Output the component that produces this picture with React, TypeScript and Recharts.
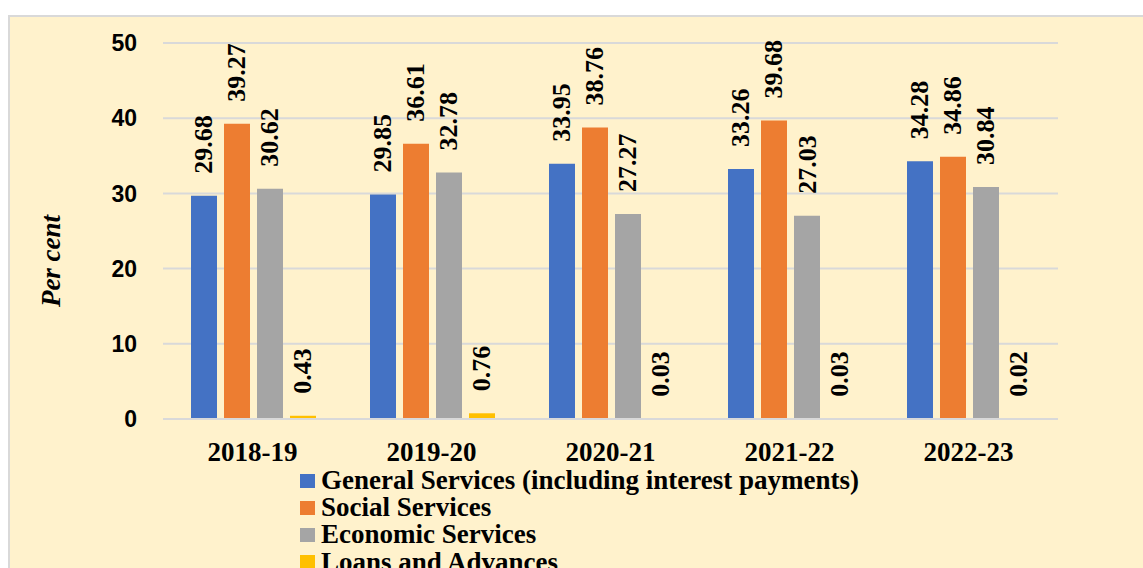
import React from 'react';
import { BarChart, Bar, XAxis, YAxis, CartesianGrid, Legend, LabelList, Label } from 'recharts';

const categories = ['2018-19', '2019-20', '2020-21', '2021-22', '2022-23'];
const generalServices = [29.68, 29.85, 33.95, 33.26, 34.28];
const socialServices = [39.27, 36.61, 38.76, 39.68, 34.86];
const economicServices = [30.62, 32.78, 27.27, 27.03, 30.84];
const loansAdvances = [0.43, 0.76, 0.03, 0.03, 0.02];
const yTicks = [0, 10, 20, 30, 40, 50];

const seriesNames = [
  'General Services (including interest payments)',
  'Social Services',
  'Economic Services',
  'Loans and Advances',
];
const seriesKeys = ['general', 'social', 'economic', 'loans'];
const seriesColors = ['#4472C4', '#ED7D31', '#A5A5A5', '#FFC000'];

const data = categories.map((c, i) => ({
  category: c,
  general: generalServices[i],
  social: socialServices[i],
  economic: economicServices[i],
  loans: loansAdvances[i],
}));

const SERIF = '"Liberation Serif", "Times New Roman", serif';
const SANS = '"Liberation Sans", Arial, sans-serif';

const RotatedLabel = (props: any) => {
  const { x, y, width, value } = props;
  const cx = Number(x) + Number(width) / 2;
  const ty = Number(y) - 22;
  return (
    <text
      x={cx}
      y={ty}
      transform={`rotate(-90, ${cx}, ${ty})`}
      textAnchor="start"
      dominantBaseline="central"
      fontFamily={SERIF}
      fontWeight="bold"
      fontSize={26}
      fill="#000"
    >
      {Number(value).toFixed(2)}
    </text>
  );
};

const YTitle = (props: any) => {
  const vb = props.viewBox || { x: 0, y: 0, width: 0, height: 0 };
  const tx = 41;
  const ty = vb.y + vb.height / 2 + 30;
  return (
    <text
      x={tx}
      y={ty}
      transform={`rotate(-90, ${tx}, ${ty})`}
      textAnchor="middle"
      dominantBaseline="central"
      fontFamily={SERIF}
      fontWeight="bold"
      fontStyle="italic"
      fontSize={27}
      fill="#000"
    >
      Per cent
    </text>
  );
};

const LegendContent = () => (
  <div style={{ fontFamily: SERIF, fontWeight: 'bold', fontSize: 27, color: '#000' }}>
    {seriesNames.map((n, i) => (
      <div key={n} style={{ display: 'flex', alignItems: 'center', height: 27.2, whiteSpace: 'nowrap' }}>
        <span style={{ display: 'inline-block', width: 15, height: 14, background: seriesColors[i], marginRight: 6 }} />
        <span>{n}</span>
      </div>
    ))}
  </div>
);

export default function App() {
  return (
    <div
      style={{
        position: 'fixed',
        left: 8,
        top: 15,
        width: 1140,
        height: 560,
        boxSizing: 'border-box',
        borderLeft: '2px solid #D9D9D9',
        borderTop: '2px solid #D9D9D9',
        background: '#FFF2CC',
        overflow: 'hidden',
      }}
    >
      <BarChart
        width={1138}
        height={551}
        data={data}
        margin={{ top: 26, right: 90, bottom: 0, left: 0 }}
        barCategoryGap={28}
        barGap={7}
      >
        <CartesianGrid vertical={false} stroke="#D9D9D9" strokeWidth={2} />
        <XAxis
          dataKey="category"
          height={39}
          axisLine={{ stroke: '#D9D9D9', strokeWidth: 2 }}
          tickLine={false}
          tickMargin={17}
          tick={{ fontFamily: SERIF, fontWeight: 'bold', fontSize: 27, fill: '#000' }}
        />
        <YAxis
          width={153}
          domain={[0, 50]}
          ticks={yTicks}
          axisLine={false}
          tickLine={false}
          tickMargin={20}
          tick={{ fontFamily: SANS, fontWeight: 'bold', fontSize: 23, fill: '#000' }}
        >
          <Label content={<YTitle />} />
        </YAxis>
        <Legend
          verticalAlign="bottom"
          layout="vertical"
          content={<LegendContent />}
          wrapperStyle={{ left: 290, top: 450, bottom: 'auto', width: 760, height: 110 }}
        />
        {seriesKeys.map((k, i) => (
          <Bar key={k} dataKey={k} name={seriesNames[i]} fill={seriesColors[i]} isAnimationActive={false}>
            <LabelList dataKey={k} content={<RotatedLabel />} />
          </Bar>
        ))}
      </BarChart>
    </div>
  );
}
